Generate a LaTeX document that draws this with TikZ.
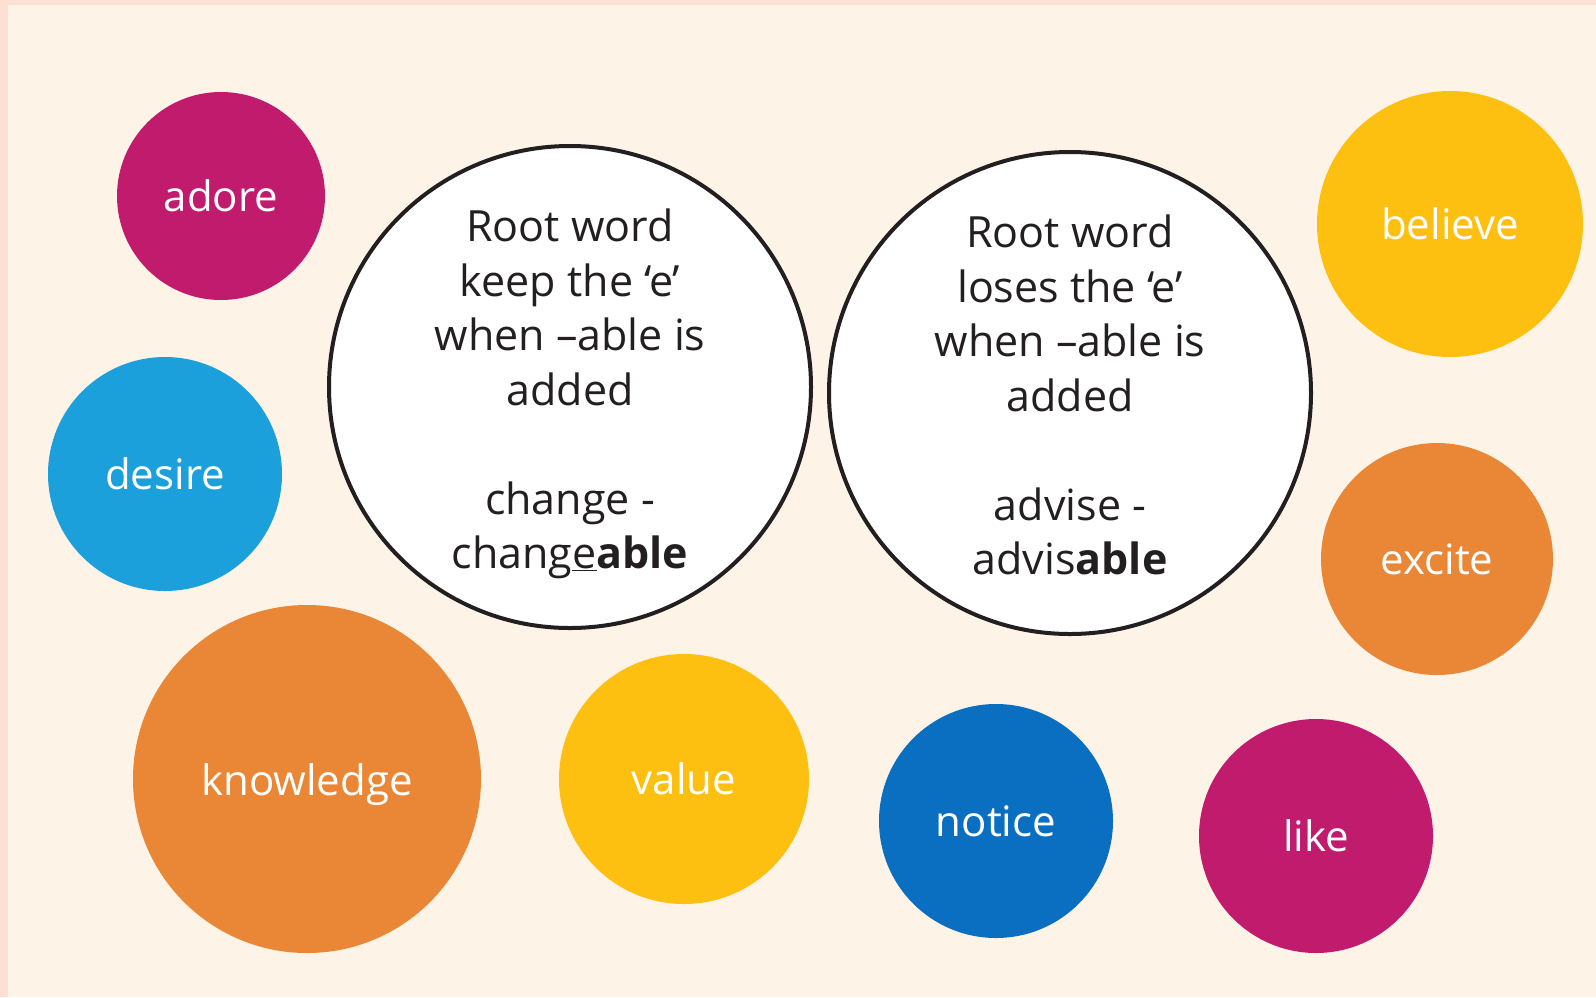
\documentclass[tikz,border=0pt]{standalone}
\usepackage{fontspec}
\setmainfont{Open Sans}
\definecolor{edgepeach}{HTML}{FDE0D3}
\definecolor{bgcream}{HTML}{FEF3E7}
\definecolor{cmag}{HTML}{C11B6E}
\definecolor{cblue}{HTML}{1CA0DB}
\definecolor{corange}{HTML}{E98737}
\definecolor{cyellow}{HTML}{FDC010}
\definecolor{cdblue}{HTML}{0A6FC0}
\definecolor{cink}{HTML}{231F20}
\tikzset{
  bubble/.style={circle, inner sep=0pt, draw=none, text=white, font=\fontsize{42}{50}\selectfont},
  rule/.style={circle, inner sep=0pt, draw=cink, line width=4pt, fill=white},
  ruletext/.style={inner sep=0pt, text=cink, align=center, font=\fontsize{43}{54.5}\selectfont},
  wordtext/.style={inner sep=0pt, text=white, font=\fontsize{42}{50}\selectfont}
}
\begin{document}
\begin{tikzpicture}[x=1pt,y=-1pt]
\useasboundingbox (0,0) rectangle (1596,997);
\fill[edgepeach] (0,0) rectangle (1596,997);
\fill[bgcream] (8,5) rectangle (1596,997);

\node[rule, minimum size=482pt] (keep) at (570,387) {};
\node[ruletext] (keeptext) at (570,394) {Root word\\keep the ‘e’\\when –able is\\added\\[54.5pt]change -\\chang\underline{e}\textbf{able}};
\node[rule, minimum size=482pt] (lose) at (1070,393) {};
\node[ruletext] (losetext) at (1070,395) {Root word\\loses the ‘e’\\when –able is\\added\\[54.5pt]advise -\\advis\textbf{able}};

\node[bubble, fill=cmag, minimum size=208pt] (adore) at (221,196) {adore};
\node[bubble, fill=cblue, minimum size=234pt] (desire) at (165,474) {desire};
\node[bubble, fill=corange, minimum size=348pt] (knowledge) at (307,779) {};
\node[wordtext] (knowledgetext) at (307,785) {knowledge};
\node[bubble, fill=cyellow, minimum size=250pt] (value) at (684,779) {value};
\node[bubble, fill=cdblue, minimum size=234pt] (notice) at (996,821) {notice};
\node[bubble, fill=cmag, minimum size=234pt] (like) at (1316,836) {like};
\node[bubble, fill=corange, minimum size=232pt] (excite) at (1437,559) {excite};
\node[bubble, fill=cyellow, minimum size=266pt] (believe) at (1450,224) {believe};
\end{tikzpicture}
\end{document}
